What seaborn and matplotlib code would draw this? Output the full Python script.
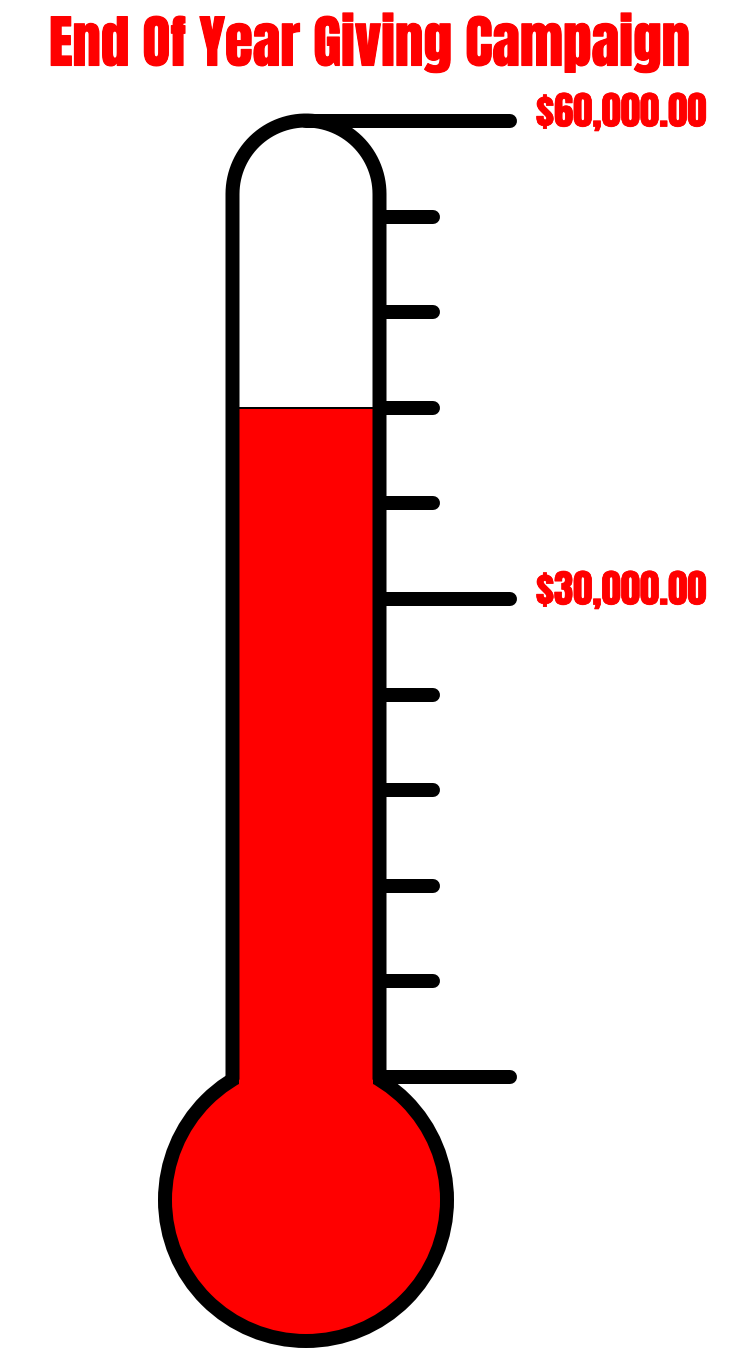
import numpy as np
import matplotlib
matplotlib.use("Agg")
import matplotlib.pyplot as plt
import matplotlib.patheffects as pe
from matplotlib.patches import Ellipse, Rectangle
import seaborn as sns

# data
TITLE = "End Of Year Giving Campaign"
GOAL = 60000
RAISED = 42000
TICK_VALUES = [0, 6000, 12000, 18000, 24000, 30000, 36000, 42000, 48000, 54000]
MAJOR_TICKS = [0, 30000]
LABEL_VALUES = [60000, 30000]
LABEL_TEXT = ["$60,000.00", "$30,000.00"]

RED = "#ff0000"
W, H = 738, 1366
TOP_PX, ZERO_PX = 121, 1077          # pixel rows of the goal and of zero
UNIT = GOAL / (ZERO_PX - TOP_PX)      # dollars per pixel


def v(py):
    # pixel row -> dollar value on the y axis
    return (ZERO_PX - py) * UNIT


def px(n):
    # pixels -> points for line widths
    return n * 72 / 100


sns.set_theme(style="white")
plt.rcParams['font.family'] = ['Anton', 'DejaVu Sans']

fig = plt.figure(figsize=(W / 100, H / 100), dpi=100)
ax = fig.add_axes([0, 0, 1, 1])
ax.set_xlim(0, W)
ax.set_ylim(v(H), v(0))
ax.axis("off")

LW = px(14)
cx = 306
tube_half = 73.5
inner_half = 67
cap_cy = v(194)
bulb_cy = v(1200)
bulb_r = 141
join_y = bulb_cy + np.sqrt(bulb_r ** 2 - tube_half ** 2) * UNIT

# bulb
ax.add_patch(Ellipse((cx, bulb_cy), 2 * bulb_r, 2 * bulb_r * UNIT,
                     fc=RED, ec="black", lw=LW, zorder=2))
# mercury column
ax.add_patch(Rectangle((cx - inner_half, bulb_cy), 2 * inner_half, RAISED - bulb_cy,
                       fc=RED, ec="none", zorder=3))
ax.hlines(RAISED, cx - tube_half, cx + tube_half, color="black", lw=px(2), zorder=3)

# tube outline: left wall, rounded cap, right wall
theta = np.linspace(np.pi, 0, 60)
xs = np.concatenate([[cx - tube_half], cx + tube_half * np.cos(theta), [cx + tube_half]])
ys = np.concatenate([[join_y], cap_cy + tube_half * UNIT * np.sin(theta), [join_y]])
ax.plot(xs, ys, color="black", lw=LW, solid_capstyle="butt",
        solid_joinstyle="round", zorder=4)

# goal line
ax.plot([cx, 510], [GOAL, GOAL], color="black", lw=LW, solid_capstyle="round", zorder=5)

# ticks
for t in TICK_VALUES:
    end = 510 if t in MAJOR_TICKS else 433
    ax.plot([cx + tube_half + 2, end], [t, t], color="black", lw=LW,
            solid_capstyle="round", zorder=5)

for val, lab in zip(LABEL_VALUES, LABEL_TEXT):
    ax.text(536, val + 9 * UNIT, lab, color=RED, fontsize=28,
            ha="left", va="center",
            path_effects=[pe.withStroke(linewidth=0.5, foreground=RED)])

ax.text(370, v(43), TITLE, color=RED, fontsize=41,
        ha="center", va="center",
        path_effects=[pe.withStroke(linewidth=0.8, foreground=RED)])

fig.savefig("out.png", dpi=100, facecolor="white")
